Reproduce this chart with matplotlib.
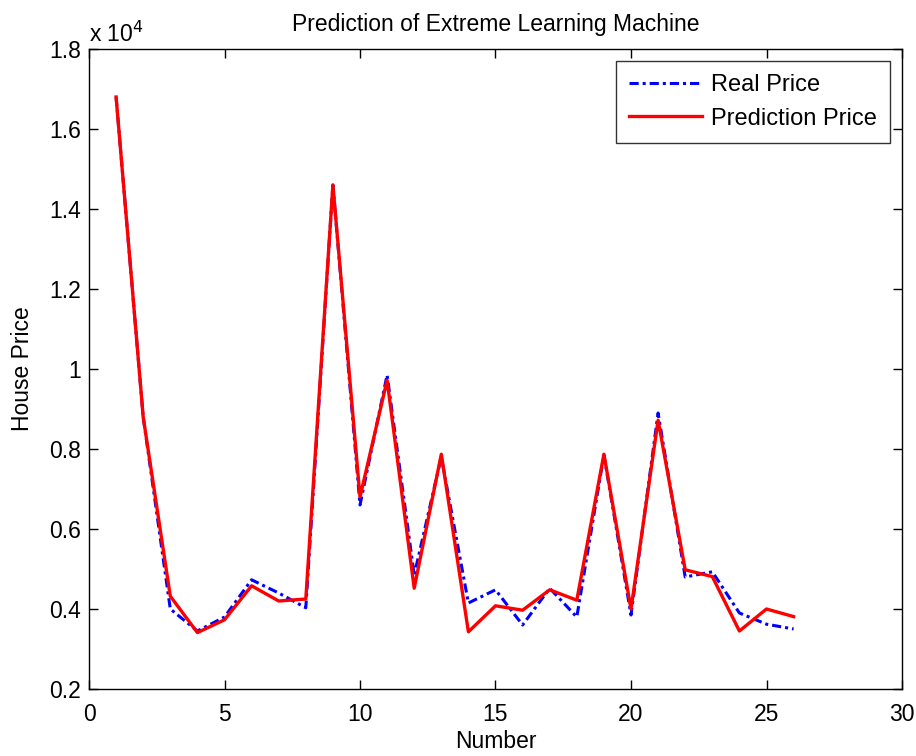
import numpy as np
import matplotlib
matplotlib.use('Agg')
import matplotlib.pyplot as plt
from matplotlib.ticker import FuncFormatter

plt.rcParams['font.family'] = ['Liberation Sans', 'DejaVu Sans']

number = list(range(1, 27))
# house price in units of 1e4
real_price = [1.68, 0.88, 0.40, 0.345, 0.38, 0.473, 0.44, 0.403, 1.46, 0.66,
              0.985, 0.485, 0.78, 0.415, 0.448, 0.36, 0.452, 0.38, 0.785, 0.385,
              0.89, 0.48, 0.493, 0.39, 0.362, 0.35]
pred_price = [1.68, 0.88, 0.432, 0.341, 0.373, 0.458, 0.42, 0.425, 1.46, 0.68,
              0.972, 0.452, 0.787, 0.343, 0.408, 0.397, 0.448, 0.422, 0.787, 0.40,
              0.872, 0.498, 0.481, 0.345, 0.40, 0.381]

real = np.array(real_price) * 1e4
pred = np.array(pred_price) * 1e4

fig = plt.figure(figsize=(9.16, 7.56), dpi=100)
ax = fig.add_axes([89/916, 1 - 689/756, 813/916, 640/756])

ax.plot(number, real, color='#0000ff', linestyle=(0, (3, 1.3, 1, 1.3)), linewidth=2.2,
        label='Real Price')
ax.plot(number, pred, color='#ff0000', linestyle='-', linewidth=2.4, label='Prediction Price')

ax.set_xlim(0, 30)
ax.set_ylim(2000, 18000)
ax.set_xticks(range(0, 31, 5))
ax.set_yticks(np.arange(2000, 18001, 2000))
ax.yaxis.set_major_formatter(FuncFormatter(lambda v, p: '%g' % (v / 1e4)))
ax.tick_params(direction='in', top=True, right=True, labelsize=16.5, length=6.5, width=1)
ax.tick_params(axis='x', pad=10)
ax.tick_params(axis='y', pad=6)
for s in ax.spines.values():
    s.set_linewidth(1.0)

ax.set_xlabel('Number', fontsize=16.5, labelpad=3)
ax.set_ylabel('House Price', fontsize=16.5, labelpad=11)
ax.set_title('Prediction of Extreme Learning Machine', fontsize=16.5, pad=13)
ax.text(0.0, 1.004, r'x 10$^4$', transform=ax.transAxes, fontsize=16.5,
        ha='left', va='bottom')

leg = ax.legend(loc='upper right', fontsize=17, frameon=True, fancybox=False,
                edgecolor='black', borderaxespad=0.5, handlelength=3.1,
                handletextpad=0.4, borderpad=0.55, labelspacing=0.5)
leg.get_frame().set_linewidth(1.0)

fig.savefig('out.png', dpi=100)
